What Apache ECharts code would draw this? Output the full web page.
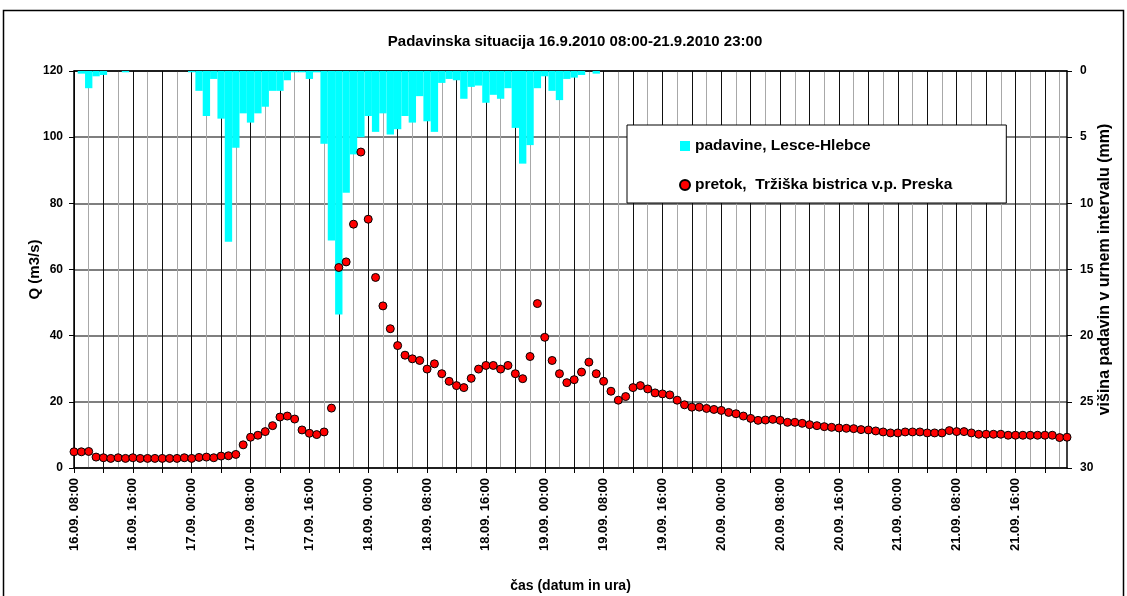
<!DOCTYPE html>
<html>
<head>
<meta charset="utf-8">
<title>Padavinska situacija</title>
<script src="https://cdn.jsdelivr.net/npm/echarts@6/dist/echarts.min.js"></script>
<style>
  html, body { margin: 0; padding: 0; background: #fff; }
  #chart { width: 1127px; height: 596px; }
</style>
</head>
<body>
<div id="chart"></div>
<script>
// hourly timestamps 16.09. 08:00 -> 21.09. 23:00
const hours = [];
for (let i = 0; i < 136; i++) {
  const t = 8 + i;
  const day = 16 + Math.floor(t / 24);
  const hh = String(t % 24).padStart(2, '0');
  hours.push(day + '.09. ' + hh + ':00');
}

// precipitation per hour (mm), Lesce-Hlebce
const padavine = [
  0, 0.2, 1.3, 0.4, 0.3, 0, 0, 0.1, 0, 0, 0, 0, 0, 0, 0, 0,
  0.1, 1.5, 3.4, 0.6, 3.6, 12.9, 5.8, 3.2, 3.9, 3.2, 2.7, 1.5, 1.5, 0.7, 0.1, 0.1,
  0.6, 0.1, 5.5, 12.8, 18.4, 9.2, 6.3, 5.0, 3.4, 4.6, 3.2, 4.8, 4.4, 3.4, 3.9, 1.9,
  3.8, 4.6, 0.9, 0.6, 0.7, 2.1, 1.2, 1.1, 2.4, 1.8, 2.1, 1.3, 4.3, 7.0, 5.6, 1.3,
  0.4, 1.5, 2.2, 0.6, 0.5, 0.3, 0, 0.2, 0, 0, 0, 0, 0, 0, 0, 0,
  0, 0, 0, 0, 0, 0, 0, 0, 0, 0, 0, 0, 0, 0, 0, 0,
  0, 0, 0, 0, 0, 0, 0, 0, 0, 0, 0, 0, 0, 0, 0, 0,
  0, 0, 0, 0, 0, 0, 0, 0, 0, 0, 0, 0, 0, 0, 0, 0,
  0, 0, 0, 0, 0, 0, 0, 0
];

// discharge (m3/s), Tržiška bistrica v.p. Preska
const pretok = [
  4.9, 4.9, 5.0, 3.3, 3.1, 2.9, 3.1, 2.9, 3.1, 2.9, 2.9, 2.9, 2.9, 2.9, 2.9, 3.1,
  2.9, 3.2, 3.3, 3.1, 3.6, 3.7, 4.1, 7.0, 9.3, 9.9, 11.0, 12.8, 15.4, 15.7, 14.8, 11.5,
  10.5, 10.1, 10.9, 18.1, 60.6, 62.3, 73.7, 95.5, 75.2, 57.6, 49.0, 42.1, 37.0, 34.1, 33.0, 32.5,
  29.9, 31.5, 28.5, 26.2, 24.9, 24.3, 27.1, 29.9, 31.0, 31.0, 29.9, 31.0, 28.5, 27.0, 33.7, 49.7,
  39.5, 32.5, 28.5, 25.8, 26.7, 29.0, 32.0, 28.5, 26.2, 23.2, 20.5, 21.6, 24.3, 24.9, 23.9, 22.7,
  22.4, 22.1, 20.5, 19.1, 18.4, 18.4, 18.0, 17.7, 17.4, 16.8, 16.4, 15.7, 15.0, 14.4, 14.5, 14.7,
  14.4, 13.8, 13.8, 13.5, 13.1, 12.8, 12.5, 12.3, 12.1, 12.0, 11.9, 11.6, 11.5, 11.2, 10.9, 10.6,
  10.6, 10.9, 10.9, 10.9, 10.6, 10.6, 10.6, 11.3, 11.0, 11.0, 10.6, 10.2, 10.2, 10.2, 10.2, 9.9,
  9.9, 9.9, 9.9, 9.9, 9.9, 9.9, 9.2, 9.3
];

const rainName = 'padavine, Lesce-Hlebce';
const flowName = 'pretok,  Tržiška bistrica v.p. Preska';
const font = 'Liberation Sans, Arial, sans-serif';
const boldText = { color: '#000', fontFamily: font, fontWeight: 'bold', fontSize: 12 };

const chart = echarts.init(document.getElementById('chart'));

const options = {
  animation: false,
  backgroundColor: '#fff',
  title: {
    text: 'Padavinska situacija 16.9.2010 08:00-21.9.2010 23:00',
    left: 570,
    textAlign: 'center',
    top: 29,
    textStyle: { ...boldText, fontSize: 15 }
  },
  graphic: [{
    type: 'rect',
    shape: { x: 3.5, y: 10.5, width: 1120, height: 600 },
    style: { fill: null, stroke: '#000', lineWidth: 1.5 },
    silent: true
  }],
  legend: {
    orient: 'vertical',
    left: 627,
    top: 125,
    itemWidth: 10,
    itemHeight: 10,
    itemGap: 23,
    padding: [13, 54, 10, 52],
    backgroundColor: '#fff',
    borderColor: '#000',
    borderWidth: 1,
    textStyle: { ...boldText, fontSize: 15.5 },
    data: [
      { name: rainName, icon: 'rect' },
      { name: flowName, icon: 'circle' }
    ]
  },
  grid: { left: 74, right: 60, top: 71, bottom: 128, outerBoundsMode: 'none' },
  xAxis: [
    {
      type: 'category',
      data: hours,
      boundaryGap: false,
      name: 'čas (datum in ura)',
      nameLocation: 'middle',
      nameGap: 111,
      nameMoveOverlap: false,
      nameTextStyle: { ...boldText, fontSize: 14 },
      axisLine: { lineStyle: { color: '#000', width: 1.5 } },
      axisTick: { interval: 3, length: 5, lineStyle: { color: '#000' } },
      axisLabel: { ...boldText, fontSize: 13, interval: 7, rotate: 90, margin: 10 },
      splitLine: {
        show: true,
        interval: (i) => i % 4 === 0,
        lineStyle: { color: '#111', width: 1 }
      }
    },
    {
      type: 'category',
      data: hours,
      boundaryGap: false,
      position: 'top',
      axisLine: { show: true, lineStyle: { color: '#000', width: 1.5 } },
      axisTick: { show: false },
      axisLabel: { show: false },
      splitLine: {
        show: true,
        interval: (i) => i % 4 === 2,
        lineStyle: { color: '#a8a8a8', width: 1 }
      }
    }
  ],
  yAxis: [
    {
      type: 'value',
      min: 0,
      max: 120,
      interval: 20,
      name: 'Q (m3/s)',
      nameLocation: 'middle',
      nameRotate: 90,
      nameGap: 32,
      nameMoveOverlap: false,
      nameTextStyle: { ...boldText, fontSize: 15 },
      axisLine: { show: true, lineStyle: { color: '#000', width: 1.5 } },
      axisTick: { show: true, length: 5, lineStyle: { color: '#000' } },
      axisLabel: { ...boldText, margin: 11 },
      splitLine: { lineStyle: { color: '#555', width: 1.5 } }
    },
    {
      type: 'value',
      min: 0,
      max: 30,
      interval: 5,
      inverse: true,
      position: 'right',
      name: 'višina padavin v urnem intervalu (mm)',
      nameLocation: 'middle',
      nameRotate: 90,
      nameGap: 30,
      nameMoveOverlap: false,
      nameTextStyle: { ...boldText, fontSize: 16 },
      axisLine: { show: true, lineStyle: { color: '#000', width: 1.5 } },
      axisTick: { show: true, length: 5, lineStyle: { color: '#000' } },
      axisLabel: { ...boldText, margin: 13 },
      splitLine: { show: false }
    }
  ],
  series: [
    {
      name: rainName,
      type: 'bar',
      xAxisIndex: 0,
      yAxisIndex: 1,
      data: padavine,
      barCategoryGap: '0%',
      itemStyle: { color: '#00ffff' }
    },
    {
      name: flowName,
      type: 'scatter',
      xAxisIndex: 0,
      yAxisIndex: 0,
      data: pretok,
      symbol: 'circle',
      symbolSize: 8,
      itemStyle: { color: '#ff0000', borderColor: '#000', borderWidth: 1, opacity: 1 },
      z: 5
    }
  ]
};

chart.setOption(options);
window.addEventListener('resize', () => chart.resize());
</script>
</body>
</html>
